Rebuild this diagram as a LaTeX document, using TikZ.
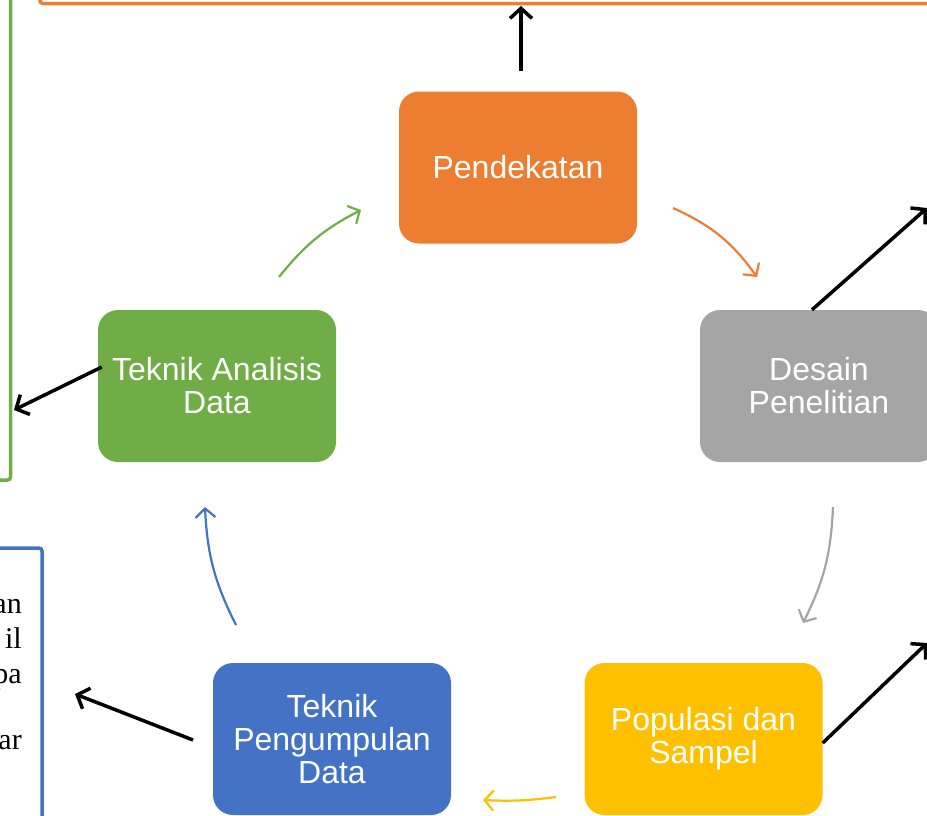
\documentclass[tikz,border=0pt]{standalone}
\usepackage{fontspec}
\setmainfont{Liberation Sans}
\newfontfamily\serifside{Liberation Serif}
\usetikzlibrary{arrows.meta,calc}
\definecolor{cOrange}{HTML}{ED7D31}
\definecolor{cGrey}{HTML}{A5A5A5}
\definecolor{cGold}{HTML}{FFC000}
\definecolor{cBlue}{HTML}{4472C4}
\definecolor{cGreen}{HTML}{70AD47}
\tikzset{
  stepbox/.style={rounded corners=20pt, minimum width=238pt, minimum height=152pt,
    inner sep=0pt, align=center, text=white,
    font=\fontsize{32}{33}\selectfont},
  cyc/.style={line width=2.2pt, -{Straight Barb[length=9pt,width=20pt,line width=2.2pt]}},
  blk/.style={line width=3.5pt, black, -{Straight Barb[length=10pt,width=22pt,line width=3.5pt]}},
  frame/.style={line width=3.5pt, rounded corners=3pt},
  sidetext/.style={anchor=base east, inner sep=0pt, font=\serifside\fontsize{30}{30}\selectfont}
}
\begin{document}
\begin{tikzpicture}[x=1pt,y=-1pt]
\useasboundingbox (0,0) rectangle (927,815);
\clip (0,0) rectangle (927,815);
% partial outside frames
\draw[frame, cOrange] (40,-200) rectangle (1100,3.5);
\draw[frame, cGreen] (-200,-50) rectangle (10.5,480);
\draw[frame, cBlue] (-400,548) rectangle (42,1000);
\node[sidetext] (t1) at (22,613) {an};
\node[sidetext] (t2) at (22,648) {il};
\node[sidetext] (t3) at (22,683) {pa};
\node[sidetext] (t4) at (22,749) {ar};
% step nodes
\node[stepbox, fill=cOrange] (pend) at (518,167.5) {Pendekatan};
\node[stepbox, fill=cGrey] (desain) at (819,386) {Desain\\Penelitian};
\node[stepbox, fill=cGold] (pop) at (703.5,739) {Populasi dan\\Sampel};
\node[stepbox, fill=cBlue] (peng) at (332,739) {Teknik\\Pengumpulan\\Data};
\node[stepbox, fill=cGreen] (anal) at (217,386) {Teknik Analisis\\Data};
% cycle arrows
\coordinate (o1) at (673,208); \coordinate (o2) at (757,277);
\coordinate (g1) at (833,507); \coordinate (g2) at (803,623);
\coordinate (y1) at (556,797); \coordinate (y2) at (483,800);
\coordinate (b1) at (236,625); \coordinate (b2) at (205,507);
\coordinate (n1) at (279,277); \coordinate (n2) at (361,210);
\draw[cyc, cOrange] (o1) to[bend left=15] (o2);
\draw[cyc, cGrey] (g1) to[bend left=12] (g2);
\draw[cyc, cGold] (y1) to[bend left=5] (y2);
\draw[cyc, cBlue] (b1) to[bend left=12] (b2);
\draw[cyc, cGreen] (n1) to[bend left=12] (n2);
% black arrows
\coordinate (eTop) at (521,6);
\coordinate (eR1) at (927,208);
\coordinate (eR2) at (927,643);
\coordinate (eL1) at (14,410);
\coordinate (eL2) at (75,694);
\coordinate (sPeng) at (193,740);
\draw[blk] ([xshift=3pt]pend.north) ++(0,-20) -- (eTop);
\draw[blk] ([xshift=-7pt]desain.north) -- (eR1);
\draw[blk] ([yshift=-4pt]pop.east) -- (eR2);
\draw[blk] (sPeng) -- (eL2);
\draw[blk] ([shift={(4pt,19pt)}]anal.west) -- (eL1);
\end{tikzpicture}
\end{document}
